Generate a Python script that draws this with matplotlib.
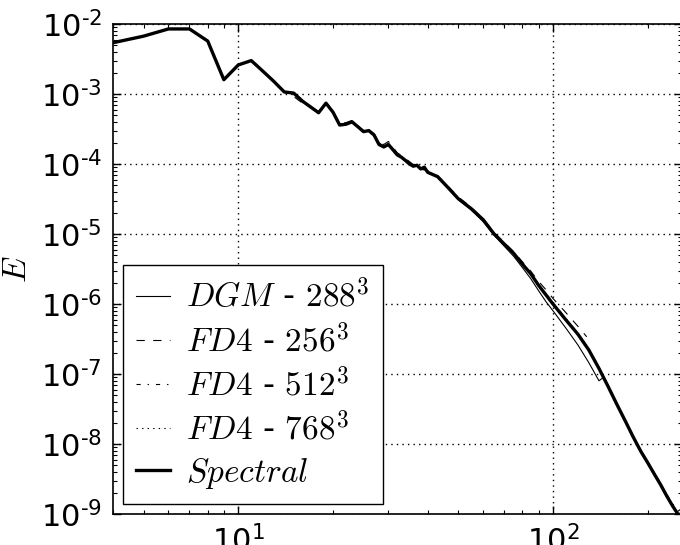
import numpy as np
import matplotlib
matplotlib.use('Agg')
import matplotlib.pyplot as plt
from matplotlib.font_manager import FontProperties
from matplotlib.ticker import FuncFormatter

# wavenumbers
k = [4, 5, 6, 7, 8, 9, 10, 11, 12, 13, 14, 15, 16, 17, 18, 19, 20, 21, 22, 23,
     24, 25, 26, 27, 28, 29, 30, 31, 32, 33, 34, 35, 36, 37, 38, 39, 40,
     43, 46, 50, 55, 60, 65, 70, 75, 80, 85, 90, 95, 100,
     110, 120, 130, 140, 150, 160, 170, 180, 190, 200, 210, 220, 230, 240, 250, 256]

spectral = [5.4e-3, 6.7e-3, 8.5e-3, 8.5e-3, 5.7e-3, 1.6e-3, 2.6e-3, 3.0e-3, 2.1e-3, 1.5e-3,
            1.07e-3, 1.03e-3, 7.9e-4, 6.5e-4, 5.4e-4, 7.4e-4, 5.5e-4, 3.6e-4, 3.7e-4, 4.0e-4,
            3.4e-4, 2.9e-4, 3.0e-4, 2.6e-4, 1.9e-4, 1.75e-4, 1.9e-4, 1.6e-4, 1.35e-4, 1.25e-4,
            1.12e-4, 1.0e-4, 9.3e-5, 9.6e-5, 8.5e-5, 9.0e-5, 7.6e-5,
            6.6e-5, 4.8e-5, 3.2e-5, 2.3e-5, 1.6e-5, 1.0e-5, 7.2e-6, 5.3e-6, 3.7e-6,
            2.7e-6, 1.85e-6, 1.35e-6, 1.0e-6,
            5.9e-7, 3.7e-7, 2.2e-7, 1.2e-7, 6.5e-8, 3.6e-8, 2.1e-8, 1.25e-8, 7.9e-9, 5.4e-9,
            3.7e-9, 2.6e-9, 1.8e-9, 1.3e-9, 9.8e-10, 1.0e-9]

# DGM 288^3
k_dgm = [4, 5, 6, 7, 8, 9, 10, 11, 12, 13, 14, 15, 16, 17, 18, 19, 20, 21, 22, 23,
         24, 25, 26, 27, 28, 29, 30, 32, 34, 36, 38, 40,
         43, 46, 50, 55, 60, 65, 70, 75, 80, 85, 90, 95, 100,
         110, 120, 130, 140, 144]
dgm = [5.4e-3, 6.7e-3, 8.5e-3, 8.5e-3, 5.7e-3, 1.6e-3, 2.6e-3, 3.0e-3, 2.1e-3, 1.5e-3,
       1.05e-3, 1.0e-3, 8.0e-4, 6.6e-4, 5.5e-4, 7.2e-4, 5.6e-4, 3.7e-4, 3.8e-4, 3.9e-4,
       3.5e-4, 3.0e-4, 2.9e-4, 2.6e-4, 2.0e-4, 1.8e-4, 1.85e-4, 1.4e-4, 1.15e-4, 9.6e-5, 8.8e-5, 7.8e-5,
       6.5e-5, 4.7e-5, 3.1e-5, 2.2e-5, 1.5e-5, 9.6e-6, 6.7e-6, 4.8e-6, 3.3e-6,
       2.3e-6, 1.55e-6, 1.08e-6, 8.0e-7,
       4.5e-7, 2.6e-7, 1.45e-7, 8.0e-8, 8.8e-8]

# FD4 256^3
k_fd256 = [4, 5, 6, 7, 8, 9, 10, 11, 12, 13, 14, 15, 16, 17, 18, 19, 20, 21, 22, 23,
           24, 25, 26, 27, 28, 29, 30, 32, 34, 36, 38, 40,
           43, 46, 50, 55, 60, 65, 70, 75, 80, 85, 90, 95, 100,
           110, 120, 128]
fd256 = [5.4e-3, 6.7e-3, 8.5e-3, 8.5e-3, 5.7e-3, 1.6e-3, 2.6e-3, 3.0e-3, 2.1e-3, 1.5e-3,
         1.1e-3, 9.2e-4, 7.4e-4, 6.6e-4, 5.6e-4, 7.1e-4, 5.7e-4, 3.8e-4, 3.9e-4, 4.2e-4,
         3.5e-4, 3.0e-4, 3.1e-4, 2.7e-4, 2.0e-4, 1.9e-4, 2.1e-4, 1.45e-4, 1.2e-4, 9.8e-5, 9.2e-5, 8.0e-5,
         6.8e-5, 5.0e-5, 3.4e-5, 2.4e-5, 1.65e-5, 1.05e-5, 7.6e-6, 5.6e-6, 4.0e-6,
         2.95e-6, 2.1e-6, 1.6e-6, 1.2e-6,
         7.5e-7, 4.8e-7, 3.4e-7]

# FD4 512^3
k_fd512 = [4, 5, 6, 7, 8, 9, 10, 11, 12, 13, 14, 15, 16, 17, 18, 19, 20, 21, 22, 23,
           24, 25, 26, 27, 28, 29, 30, 32, 34, 36, 38, 40,
           43, 46, 50, 55, 60, 65, 70, 75, 80, 85, 90, 95, 100,
           110, 120, 130, 140, 150, 160, 170, 180, 190, 200, 210, 220, 230, 240, 250, 256]
fd512 = [5.4e-3, 6.7e-3, 8.5e-3, 8.5e-3, 5.7e-3, 1.6e-3, 2.6e-3, 3.0e-3, 2.1e-3, 1.5e-3,
         1.08e-3, 1.02e-3, 7.8e-4, 6.5e-4, 5.5e-4, 7.3e-4, 5.5e-4, 3.7e-4, 3.7e-4, 4.1e-4,
         3.4e-4, 2.95e-4, 3.0e-4, 2.6e-4, 1.95e-4, 1.75e-4, 1.95e-4, 1.4e-4, 1.15e-4, 9.5e-5, 8.7e-5, 7.7e-5,
         6.7e-5, 4.9e-5, 3.25e-5, 2.35e-5, 1.6e-5, 1.02e-5, 7.3e-6, 5.4e-6, 3.8e-6,
         2.75e-6, 1.9e-6, 1.4e-6, 1.05e-6,
         6.2e-7, 3.8e-7, 2.3e-7, 1.25e-7, 6.8e-8, 3.7e-8, 2.2e-8, 1.3e-8, 8.2e-9, 5.6e-9,
         3.9e-9, 2.7e-9, 1.9e-9, 1.4e-9, 1.1e-9, 1.2e-9]

# FD4 768^3
k_fd768 = [4, 5, 6, 7, 8, 9, 10, 11, 12, 13, 14, 15, 16, 17, 18, 19, 20, 21, 22, 23,
           24, 25, 26, 27, 28, 29, 30, 32, 34, 36, 38, 40,
           43, 46, 50, 55, 60, 65, 70, 75, 80, 85, 90, 95, 100,
           110, 120, 130, 140, 150, 160, 170, 180, 190, 200, 210, 220, 230, 240, 250, 256]
fd768 = [5.4e-3, 6.7e-3, 8.5e-3, 8.5e-3, 5.7e-3, 1.6e-3, 2.6e-3, 3.0e-3, 2.1e-3, 1.5e-3,
         1.07e-3, 1.03e-3, 7.9e-4, 6.5e-4, 5.4e-4, 7.4e-4, 5.5e-4, 3.6e-4, 3.7e-4, 4.0e-4,
         3.4e-4, 2.9e-4, 3.0e-4, 2.6e-4, 1.9e-4, 1.75e-4, 1.9e-4, 1.38e-4, 1.13e-4, 9.4e-5, 8.6e-5, 7.6e-5,
         6.6e-5, 4.8e-5, 3.2e-5, 2.3e-5, 1.6e-5, 1.0e-5, 7.2e-6, 5.3e-6, 3.7e-6,
         2.7e-6, 1.85e-6, 1.35e-6, 1.0e-6,
         5.9e-7, 3.7e-7, 2.2e-7, 1.2e-7, 6.5e-8, 3.6e-8, 2.1e-8, 1.25e-8, 7.9e-9, 5.4e-9,
         3.7e-9, 2.6e-9, 1.8e-9, 1.3e-9, 1.0e-9, 1.05e-9]

labels = [r'$DGM$ - $288^3$', r'$FD4$ - $256^3$', r'$FD4$ - $512^3$',
          r'$FD4$ - $768^3$', r'$Spectral$']

plt.rcParams['lines.scale_dashes'] = False
plt.rcParams['xtick.direction'] = 'in'
plt.rcParams['ytick.direction'] = 'in'
plt.rcParams['xtick.top'] = True
plt.rcParams['ytick.right'] = True


def pow10(v, pos):
    e = int(round(np.log10(v)))
    if e < 0:
        return r'$\mathdefault{10^{\text{-}%d}}$' % (-e)
    return r'$\mathdefault{10^{%d}}$' % e


fig = plt.figure(figsize=(6.8, 5.45), dpi=100)
ax = fig.add_axes([113 / 680, 31 / 545, 569 / 680, 490 / 545])

ax.loglog(k_dgm, dgm, color='k', lw=0.8, label=labels[0])
ax.loglog(k_fd256, fd256, color='k', lw=0.8, linestyle=(0, (6, 6)), label=labels[1])
ax.loglog(k_fd512, fd512, color='k', lw=0.8, linestyle=(0, (3, 5, 1, 5)), label=labels[2])
ax.loglog(k_fd768, fd768, color='k', lw=0.8, linestyle=(0, (1, 3)), label=labels[3])
ax.loglog(k, spectral, color='k', lw=2.4, label=labels[4])

ax.set_xlim(4, 257)
ax.set_ylim(1e-9, 1e-2)
ax.xaxis.set_major_formatter(FuncFormatter(pow10))
ax.yaxis.set_major_formatter(FuncFormatter(pow10))
ax.grid(True, which='major', color='k', lw=1.0, linestyle=(0, (1, 3)))
ax.tick_params(which='major', length=6, width=1, labelsize=22, pad=8)
ax.tick_params(which='minor', length=3, width=0.8)
for s in ax.spines.values():
    s.set_linewidth(1.2)

ax.set_ylabel('$E$', fontsize=24, math_fontfamily='cm')
ax.yaxis.set_label_coords(-0.14, 0.5)

leg = ax.legend(loc='lower left', prop=FontProperties(size=24, math_fontfamily='cm'),
                fancybox=False, framealpha=1, edgecolor='k', handlelength=1.0,
                handletextpad=0.5, borderaxespad=0.3, borderpad=0.4, labelspacing=0.28)
leg.get_frame().set_linewidth(1.0)

fig.savefig('out.png', dpi=100)
